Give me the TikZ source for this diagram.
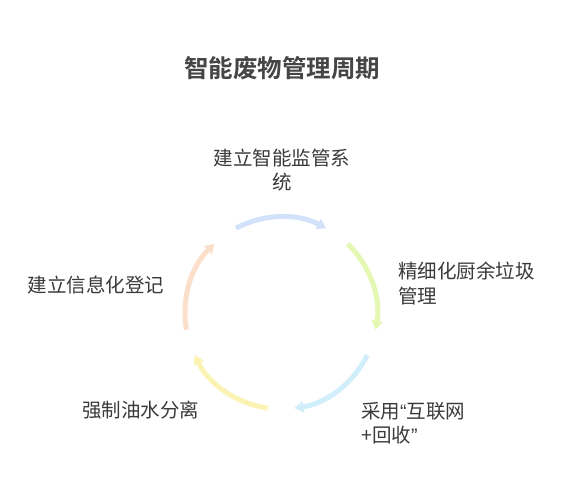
\documentclass[tikz,border=0pt]{standalone}
\usepackage{fontspec}
\setmainfont{Noto Sans CJK SC}
\newfontfamily\titlefont{Noto Sans CJK SC Bold}
\newfontfamily\qfont{Liberation Sans}
\usetikzlibrary{arrows.meta,calc}
\definecolor{txt}{HTML}{3A3A3A}
\definecolor{ttl}{HTML}{454545}
\definecolor{cA}{HTML}{D2E2FB}
\definecolor{cB}{HTML}{E4F8B4}
\definecolor{cC}{HTML}{D0EFFB}
\definecolor{cD}{HTML}{FBF3B4}
\definecolor{cE}{HTML}{FCDFCB}
\tikzset{
  lbl/.style={text=txt, font=\fontsize{19.5}{24.5}\selectfont, inner sep=0pt},
  cyc/.style={line width=5pt, -{Triangle[width=11pt,length=9pt]}},
}
\begin{document}
\begin{tikzpicture}[x=1pt,y=1pt]
\useasboundingbox (0,0) rectangle (564,492);
\fill[white] (0,0) rectangle (564,492);
\node[text=ttl, font=\titlefont\fontsize{24.5}{28}\selectfont, inner sep=0pt] (title) at (282,424) {智能废物管理周期};
\coordinate (c) at (281,179);
\def\R{96}
\draw[cyc, cA] ($(c)+(118:\R)$) arc[start angle=118, end angle=62, radius=\R];
\draw[cyc, cB] ($(c)+(46:\R)$) arc[start angle=46, end angle=-10, radius=\R];
\draw[cyc, cC] ($(c)+(-26:\R)$) arc[start angle=-26, end angle=-82, radius=\R];
\draw[cyc, cD] ($(c)+(-98:\R)$) arc[start angle=-98, end angle=-154, radius=\R];
\draw[cyc, cE] ($(c)+(190:\R)$) arc[start angle=190, end angle=134, radius=\R];
\node[lbl, align=center] (s1) at (282,322) {建立智能监管系\\统};
\node[lbl, align=left, anchor=west] (s2) at (398,208.5) {精细化厨余垃圾\\管理};
\node[lbl, align=left, anchor=west] (s3) at (361,69) {采用{\qfont“}互联网\\+回收{\qfont”}};
\node[lbl] (s4) at (140.5,82) {强制油水分离};
\node[lbl] (s5) at (96,207) {建立信息化登记};
\end{tikzpicture}
\end{document}
